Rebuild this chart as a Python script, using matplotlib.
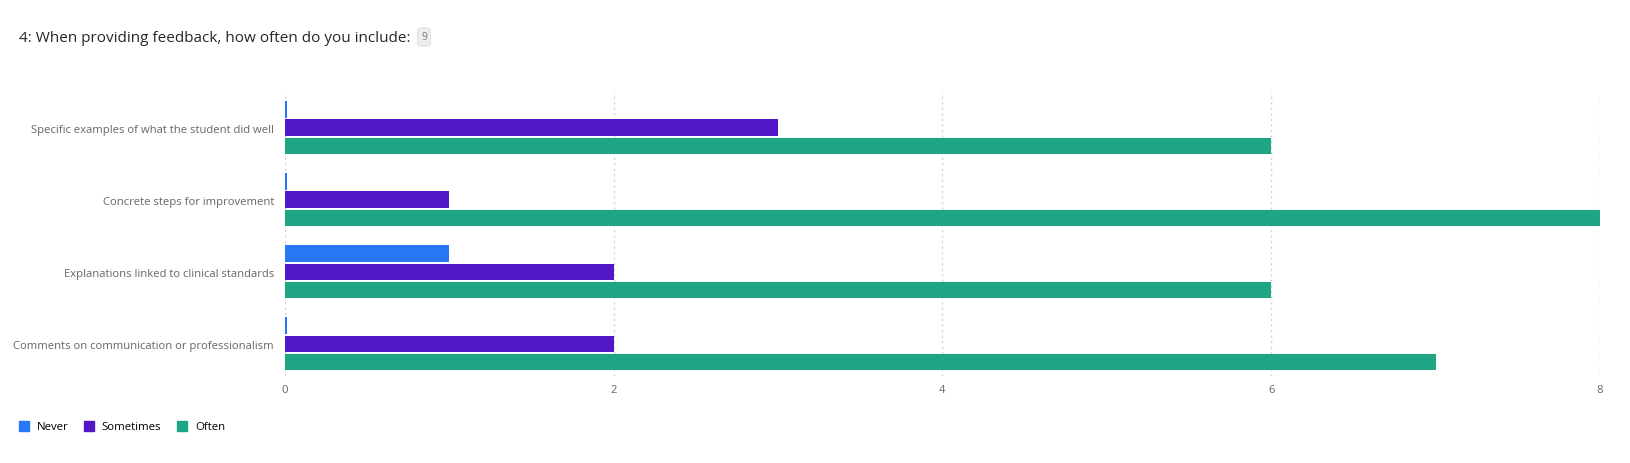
import numpy as np
import matplotlib
matplotlib.use("Agg")
import matplotlib.pyplot as plt
from matplotlib.lines import Line2D

plt.rcParams['font.family'] = ['Open Sans', 'DejaVu Sans']

categories = [
    "Specific examples of what the student did well",
    "Concrete steps for improvement",
    "Explanations linked to clinical standards",
    "Comments on communication or professionalism",
]
series_names = ["Never", "Sometimes", "Often"]
never = [0, 0, 1, 0]
sometimes = [3, 1, 2, 2]
often = [6, 8, 6, 7]
x_ticks = [0, 2, 4, 6, 8]
title = "4: When providing feedback, how often do you include:"
response_count = "9"

colors = ["#2878F5", "#5117C6", "#1DA584"]

fig = plt.figure(figsize=(16.31, 4.64), dpi=100)
ax = fig.add_axes([285 / 1631, 1 - 377 / 464, 1315 / 1631, 284 / 464])

y = np.arange(len(categories))
bar_h = 0.23
step = 0.252
for i, (vals, c) in enumerate(zip([never, sometimes, often], colors)):
    # zero values are still drawn as a thin sliver like the original
    widths = [max(v, 0.012) for v in vals]
    ax.barh(y + (i - 1) * step, widths, height=bar_h, color=c, edgecolor="none", zorder=3)

ax.set_xlim(0, 8)
ax.set_ylim(3.445, -0.495)
ax.set_xticks(x_ticks)
ax.set_xticklabels([str(t) for t in x_ticks])
ax.set_yticks(y)
ax.set_yticklabels(categories)
ax.tick_params(axis="both", length=0, labelsize=8.1, labelcolor="#666666")
ax.tick_params(axis="y", pad=8)
ax.tick_params(axis="x", pad=6)
for s in ax.spines.values():
    s.set_visible(False)
ax.grid(axis="x", color="#d2d2d2", linestyle=(0, (1.5, 2.5)), linewidth=1, zorder=0)
ax.grid(axis="y", visible=False)

fig.text(19 / 1631, 1 - 38 / 464, title, fontsize=11, color="#262626", va="center")
fig.text(424 / 1631, 1 - 38 / 464, response_count, fontsize=7.5, color="#777777",
         va="center", ha="center",
         bbox=dict(boxstyle="round,pad=0.35", fc="#eeeeee", ec="#dddddd", lw=0.6))

handles = [Line2D([], [], marker="s", linestyle="none", markersize=7,
                  markerfacecolor=c, markeredgecolor=c) for c in colors]
fig.legend(handles, series_names, loc="center left", bbox_to_anchor=(8 / 1631, 1 - 428 / 464),
           ncol=3, frameon=False, fontsize=8.2, handletextpad=0.6, columnspacing=1.35,
           handlelength=1.0)

fig.savefig("out.png", dpi=100)
